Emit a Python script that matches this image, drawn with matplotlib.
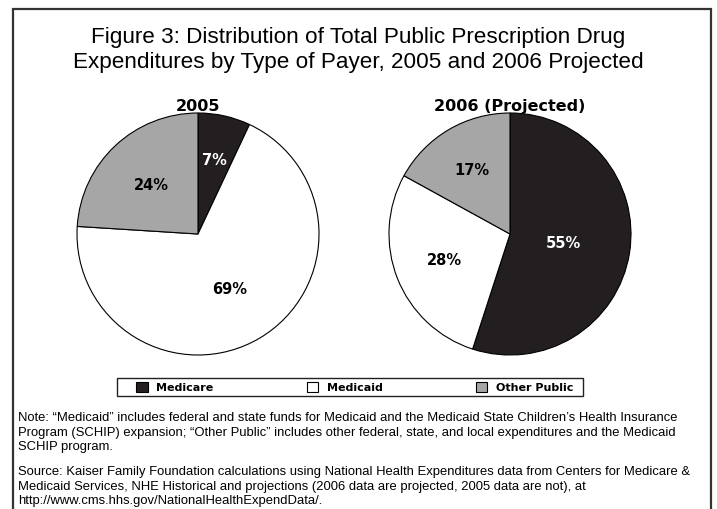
import matplotlib.pyplot as plt
from matplotlib.patches import Rectangle, Patch

W, H = 717, 510

payers = ["Medicare", "Medicaid", "Other Public"]
colors = ["#231f20", "#ffffff", "#a6a6a6"]
share_2005 = [7, 69, 24]
share_2006 = [55, 28, 17]
pie_titles = ["2005", "2006 (Projected)"]

title = ("Figure 3: Distribution of Total Public Prescription Drug\n"
         "Expenditures by Type of Payer, 2005 and 2006 Projected")
note = ("Note: \u201cMedicaid\u201d includes federal and state funds for Medicaid and the Medicaid State Children\u2019s Health Insurance\n"
        "Program (SCHIP) expansion; \u201cOther Public\u201d includes other federal, state, and local expenditures and the Medicaid\n"
        "SCHIP program.")
source = ("Source: Kaiser Family Foundation calculations using National Health Expenditures data from Centers for Medicare &\n"
          "Medicaid Services, NHE Historical and projections (2006 data are projected, 2005 data are not), at\n"
          "http://www.cms.hhs.gov/NationalHealthExpendData/.")

# how far out (fraction of radius) each percent label sits
label_dist = [[0.63, 0.52, 0.56], [0.45, 0.58, 0.62]]


def box(x, y, w, h):
    # pixel box (top-left origin) -> figure fraction
    return [x / W, 1 - (y + h) / H, w / W, h / H]


fig = plt.figure(figsize=(W / 100, H / 100), dpi=100)
fig.patch.set_facecolor("white")

# outer frame (runs off the bottom edge like the original)
fig.add_artist(Rectangle((13 / W, -0.05), 698 / W, 1.05 - 10 / H,
                         transform=fig.transFigure, fill=False,
                         edgecolor="#333333", linewidth=1.6))

fig.text(0.5, 1 - 50 / H, title, ha="center", va="center",
         family="Liberation Sans", fontsize=16.2, linespacing=1.2)

pie_boxes = [(77, 114), (389, 114)]
for i, ((px, py), vals, name) in enumerate(zip(pie_boxes, [share_2005, share_2006], pie_titles)):
    ax = fig.add_axes(box(px, py, 242, 242))
    wedges, texts, autotexts = ax.pie(
        vals, colors=colors, startangle=90, counterclock=False,
        autopct="%d%%", pctdistance=1.0,
        wedgeprops=dict(edgecolor="black", linewidth=0.8),
        textprops=dict(family="DejaVu Sans", fontweight="bold", fontsize=10.5))
    autotexts[0].set_color("white")
    for t, d in zip(autotexts, label_dist[i]):
        x, y = t.get_position()
        t.set_position((x * d, y * d))
    for w in wedges:
        w.set_clip_on(False)
    ax.set_xlim(-1, 1)
    ax.set_ylim(-1, 1)
    ax.set_title(name, family="DejaVu Sans", fontweight="bold",
                 fontsize=11.5, pad=1)

# legend box drawn separately, entries centred inside it
fig.add_artist(Rectangle((117 / W, 1 - 397 / H), 466 / W, 18 / H,
                         transform=fig.transFigure, fill=False,
                         edgecolor="#222222", linewidth=1.0))
handles = [Patch(facecolor=c, edgecolor="black", linewidth=0.8) for c in colors]
fig.legend(handles, payers, loc="center", ncol=3,
           bbox_to_anchor=(355 / W, 1 - 388 / H),
           prop=dict(family="DejaVu Sans", weight="bold", size=8),
           frameon=False, columnspacing=8.4, handlelength=1.0,
           handleheight=1.0, handletextpad=0.8, borderpad=0.2)

fig.text(18 / W, 1 - 412 / H, note, ha="left", va="top",
         family="Liberation Sans", fontsize=9.4, linespacing=1.3)
fig.text(18 / W, 1 - 466 / H, source, ha="left", va="top",
         family="Liberation Sans", fontsize=9.4, linespacing=1.3)

fig.savefig("out.png", dpi=100)
